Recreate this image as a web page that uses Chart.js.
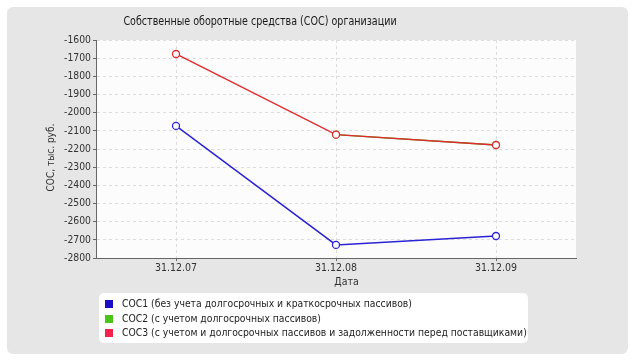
<!DOCTYPE html>
<html>
<head>
<meta charset="utf-8">
<script src="https://cdn.jsdelivr.net/npm/chart.js@4.4.1/dist/chart.umd.min.js"></script>
<style>
    body { margin: 0; background: #ffffff; }
    #wrap { position: relative; width: 635px; height: 362px; }
    #legend {
        position: absolute; left: 99px; top: 293px; width: 429px; height: 50px;
        background: #ffffff; border-radius: 5px; box-sizing: border-box;
        padding: 3px 0 0 6px;
        font: 10.3px "DejaVu Sans Condensed", "Liberation Sans", sans-serif; color: #222;
    }
    #legend div { height: 14.5px; line-height: 14.5px; white-space: nowrap; }
    #legend span { display: inline-block; width: 8px; height: 8px; margin-right: 9px; vertical-align: -1px; }
</style>
</head>
<body>
<div id="wrap">
    <canvas id="line-canvas" width="635" height="362"></canvas>
    <div id="legend"></div>
</div>
<script>
var chartTitle = 'Собственные оборотные средства (СОС) организации';
var dates = ['31.12.07', '31.12.08', '31.12.09'];
var seriesNames = [
    'СОС1 (без учета долгосрочных и краткосрочных пассивов)',
    'СОС2 (с учетом долгосрочных пассивов)',
    'СОС3 (с учетом и долгосрочных пассивов и задолженности перед поставщиками)'
];
var coc1 = [-2073, -2728, -2679];
var coc2 = [null, -2121, -2178];
var coc3 = [-1677, -2121, -2178];

var lineColors = ['#2a22d4', '#44bb10', '#e02a30'];
var boxColors = ['#1a0fc4', '#4cc417', '#f5234b'];
var fontName = '"DejaVu Sans Condensed", "Liberation Sans", sans-serif';

// gray panel, plot background and the title
var backdrop = {
    id: 'backdrop',
    beforeDraw: function (chart) {
        var ctx = chart.ctx;
        var a = chart.chartArea;
        ctx.save();
        ctx.fillStyle = '#e6e6e6';
        ctx.beginPath();
        ctx.roundRect(7, 7, 621, 347, 6);
        ctx.fill();
        ctx.fillStyle = '#fcfcfc';
        ctx.fillRect(a.left, a.top, a.right - a.left, a.bottom - a.top);
        // title font in the original is narrower than anything installed
        ctx.translate(260, 22);
        ctx.scale(0.85, 1);
        ctx.fillStyle = '#1a1a1a';
        ctx.font = '12.5px ' + fontName;
        ctx.textAlign = 'center';
        ctx.textBaseline = 'middle';
        ctx.fillText(chartTitle, 0, 0);
        ctx.restore();
    }
};

function makeSet(i, values, order) {
    return {
        label: seriesNames[i],
        data: values,
        borderColor: lineColors[i],
        backgroundColor: '#ffffff',
        borderWidth: 1.4,
        pointRadius: 3.5,
        pointBorderWidth: 1.3,
        pointBackgroundColor: '#ffffff',
        pointBorderColor: lineColors[i],
        tension: 0,
        order: order
    };
}

var lineConfig = {
    type: 'line',
    data: {
        labels: dates,
        datasets: [makeSet(0, coc1, 0), makeSet(1, coc2, 1), makeSet(2, coc3, 0)]
    },
    options: {
        responsive: false,
        animation: false,
        layout: { padding: { left: 41, right: 59, top: 40, bottom: 72 } },
        plugins: {
            legend: { display: false },
            title: { display: false },
            tooltip: { enabled: false }
        },
        scales: {
            x: {
                offset: true,
                grid: { offset: false, color: '#dcdcdc', tickColor: '#666', tickLength: 3 },
                border: { color: '#666', dash: [3, 3] },
                ticks: { color: '#333', padding: 1, font: { family: fontName, size: 10.5 } },
                title: {
                    // leading spaces push the label right of the axis centre, as in the original
                    display: true, text: '       Дата', color: '#333',
                    padding: { top: 0, bottom: 1 },
                    font: { family: fontName, size: 10.5 }
                },
                afterFit: function (scale) { scale.height = 32; }
            },
            y: {
                min: -2800,
                max: -1600,
                grid: { color: '#dcdcdc', tickColor: '#666', tickLength: 3 },
                border: { color: '#666', dash: [3, 3] },
                ticks: {
                    stepSize: 100, color: '#333', padding: 2,
                    font: { family: fontName, size: 10.3 },
                    callback: function (v) { return String(v); }
                },
                title: {
                    display: true, text: 'СОС, тыс. руб.      ', color: '#333',
                    padding: { top: 4, bottom: 4 },
                    font: { family: fontName, size: 10 }
                },
                afterFit: function (scale) { scale.width = 55; }
            }
        }
    },
    plugins: [backdrop]
};

var ctx = document.getElementById('line-canvas').getContext('2d');
window.myLine = new Chart(ctx, lineConfig);

var legend = document.getElementById('legend');
window.myLine.data.datasets.forEach(function (ds, i) {
    var row = document.createElement('div');
    var box = document.createElement('span');
    box.style.background = boxColors[i];
    row.appendChild(box);
    row.appendChild(document.createTextNode(ds.label));
    legend.appendChild(row);
});
</script>
</body>
</html>
